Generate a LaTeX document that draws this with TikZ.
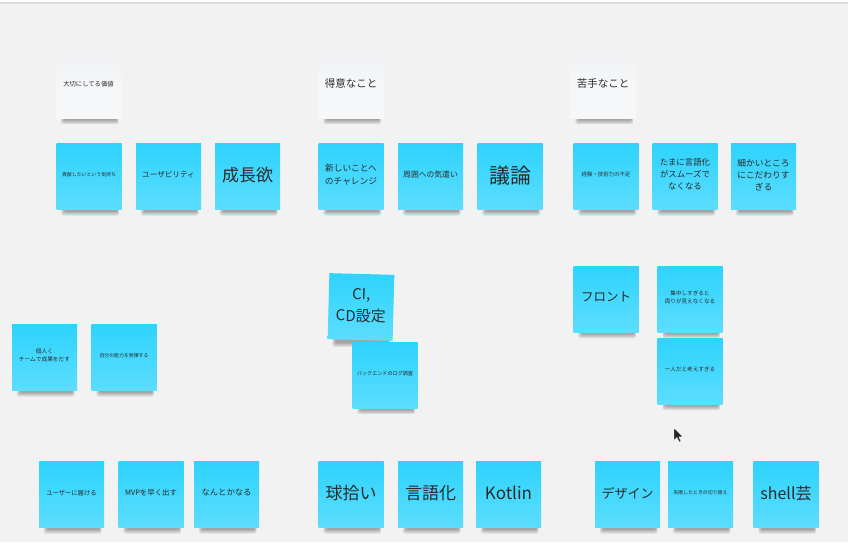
\documentclass[tikz,border=0pt]{standalone}
\usepackage{fontspec}
\setmainfont{Noto Sans CJK JP}
\usetikzlibrary{calc}
\definecolor{bgc}{HTML}{F2F2F2}
\definecolor{stop}{HTML}{2ED3FD}
\definecolor{sbot}{HTML}{5CDDFE}
\definecolor{hdr}{HTML}{F6F7F9}
\definecolor{txt}{HTML}{2A2A2A}
\definecolor{topline}{HTML}{DDDDDD}
\pgfdeclarelayer{bg}
\pgfdeclarelayer{canvas}
\pgfsetlayers{canvas,bg,main}
\tikzset{
  sticky/.style={minimum width=65pt, minimum height=66pt, inner sep=0pt,
    top color=stop, bottom color=sbot, align=center, text=txt, text depth=0.4em},
  hdrnote/.style={minimum width=65pt, minimum height=65pt, inner sep=0pt,
    top color=hdr!95!gray, bottom color=hdr, middle color=hdr, align=center, text=txt, text depth=0.4em},
}
\newcommand\fz[2]{\fontsize{#1}{#2}\selectfont}
\begin{document}
\begin{tikzpicture}[x=1pt,y=-1pt]
\useasboundingbox (0,0) rectangle (848,542);
\begin{pgfonlayer}{canvas}
\fill[bgc] (0,0) rectangle (848,542);
\fill[white] (0,0) rectangle (848,1.5);
\fill[topline] (0,1.5) rectangle (848,3.5);
\end{pgfonlayer}

% headers
\node[hdrnote, font=\fz{6.3}{9}] (h1) at (88.5,85.5) {大切にしてる価値};
\node[hdrnote, font=\fz{10.5}{15}] (h2) at (351,85.5) {得意なこと};
\node[hdrnote, font=\fz{10.5}{15}] (h3) at (603,85.5) {苦手なこと};

% row 1
\node[sticky, font=\fz{4.9}{7}] (r1a) at (89,176.5) {貢献したいという気持ち};
\node[sticky, font=\fz{7.6}{11}] (r1b) at (168.5,176.5) {ユーザビリティ};
\node[sticky, font=\fz{17}{24}] (r1c) at (247.5,176.5) {成長欲};
\node[sticky, font=\fz{8.7}{12.5}] (r1d) at (351,176.5) {新しいことへ\\のチャレンジ};
\node[sticky, font=\fz{7.8}{11}] (r1e) at (430.5,176.5) {周囲への気遣い};
\node[sticky, font=\fz{21}{28}] (r1f) at (510,176.5) {議論};
\node[sticky, font=\fz{5.4}{8}] (r1g) at (606,176.5) {経験・技術力の不足};
\node[sticky, font=\fz{8.4}{12}] (r1h) at (685,176.5) {たまに言語化\\がスムーズで\\なくなる};
\node[sticky, font=\fz{8.7}{12}] (r1i) at (763.5,176.5) {細かいところ\\にこだわりす\\ぎる};

% middle
\node[sticky, font=\fz{5.7}{8.2}] (m1) at (44.5,357.5) {個人く\\チームで成果をだす};
\node[sticky, font=\fz{4.9}{7}] (m2) at (124,357.5) {自分の能力を発揮する};
\node[sticky, font=\fz{15}{22}, rotate=-1.5] (ci) at (361,307) {CI,\\CD設定};
\node[sticky, font=\fz{5.1}{7}] (be) at (385,375) {バックエンドのログ調査};
\node[sticky, font=\fz{12.5}{18}] (fr) at (606,299) {フロント};
\node[sticky, font=\fz{5.6}{8.2}] (sc) at (690,299) {集中しすぎると\\周りが見えなくなる};
\node[sticky, font=\fz{5.6}{8}] (hi) at (690,371) {一人だと考えすぎる};

% bottom
\node[sticky, font=\fz{6.3}{9}] (b1) at (71.5,494.5) {ユーザーに届ける};
\node[sticky, font=\fz{7.4}{10}] (b2) at (151,494.5) {MVPを早く出す};
\node[sticky, font=\fz{8.3}{12}] (b3) at (226.5,494.5) {なんとかなる};
\node[sticky, font=\fz{17}{24}] (b4) at (351,494.5) {球拾い};
\node[sticky, font=\fz{17}{24}] (b5) at (430.5,494.5) {言語化};
\node[sticky, font=\fz{17}{24}] (b6) at (508.5,494.5) {Kotlin};
\node[sticky, font=\fz{13}{18}] (b7) at (627.5,494.5) {デザイン};
\node[sticky, font=\fz{4.9}{7}] (b8) at (700.5,494.5) {失敗したときの切り替え};
\node[sticky, font=\fz{16}{22}] (b9) at (786,494.5) {shell芸};

% shadows
\begin{pgfonlayer}{bg}
\foreach \n in {h1,h2,h3,r1a,r1b,r1c,r1d,r1e,r1f,r1g,r1h,r1i,m1,m2,ci,be,fr,sc,hi,b1,b2,b3,b4,b5,b6,b7,b8,b9}{
  \foreach \k in {1,...,4}{
    \fill[black, opacity=0.09, rounded corners=2pt]
      ($(\n.south west)+(9-\k,-3)$) rectangle ($(\n.south east)+(-5+0.6*\k,1+1.2*\k)$);
  }
}
\end{pgfonlayer}

% mouse cursor
\coordinate (cur) at (674,428);
\fill[black!85, draw=white, line width=0.4pt, line join=round]
  (cur) -- ++(0,12.5) -- ++(3,-3) -- ++(2.2,4.6) -- ++(1.8,-0.8) -- ++(-2.1,-4.5) -- ++(4.2,0) -- cycle;
\end{tikzpicture}
\end{document}
